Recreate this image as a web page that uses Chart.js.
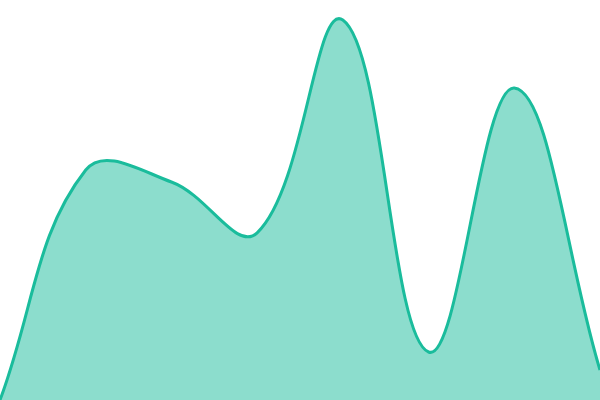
<!DOCTYPE html>
<html>
<head>
<meta charset="utf-8">
<script src="https://cdn.jsdelivr.net/npm/chart.js@4"></script>
<style>
  html, body { margin: 0; padding: 0; background: #fff; }
  #wrap { width: 600px; height: 400px; }
</style>
</head>
<body>
<div id="wrap"><canvas id="myChart" width="600" height="400"></canvas></div>
<script>
  let labels = ["1", "2", "3", "4", "5", "6", "7", "8"]
  let values = [0, 57.5, 54.5, 41.8, 95, 12, 78, 7.5]

  const ctx = document.getElementById('myChart');

  new Chart(ctx, {
    type: 'line',
    data: {
      labels: labels,
      datasets: [{
        data: values,
        fill: 'origin',
        backgroundColor: 'rgba(26, 188, 156, 0.5)',
        borderColor: '#1abc9c',
        borderWidth: 3,
        pointRadius: 0,
        tension: 0.4
      }]
    },
    options: {
      responsive: false,
      animation: false,
      layout: { padding: 0 },
      plugins: { legend: { display: false }, tooltip: { enabled: false } },
      scales: {
        x: { display: false },
        y: { display: false, min: 0, max: 100 }
      }
    }
  });
</script>
</body>
</html>
